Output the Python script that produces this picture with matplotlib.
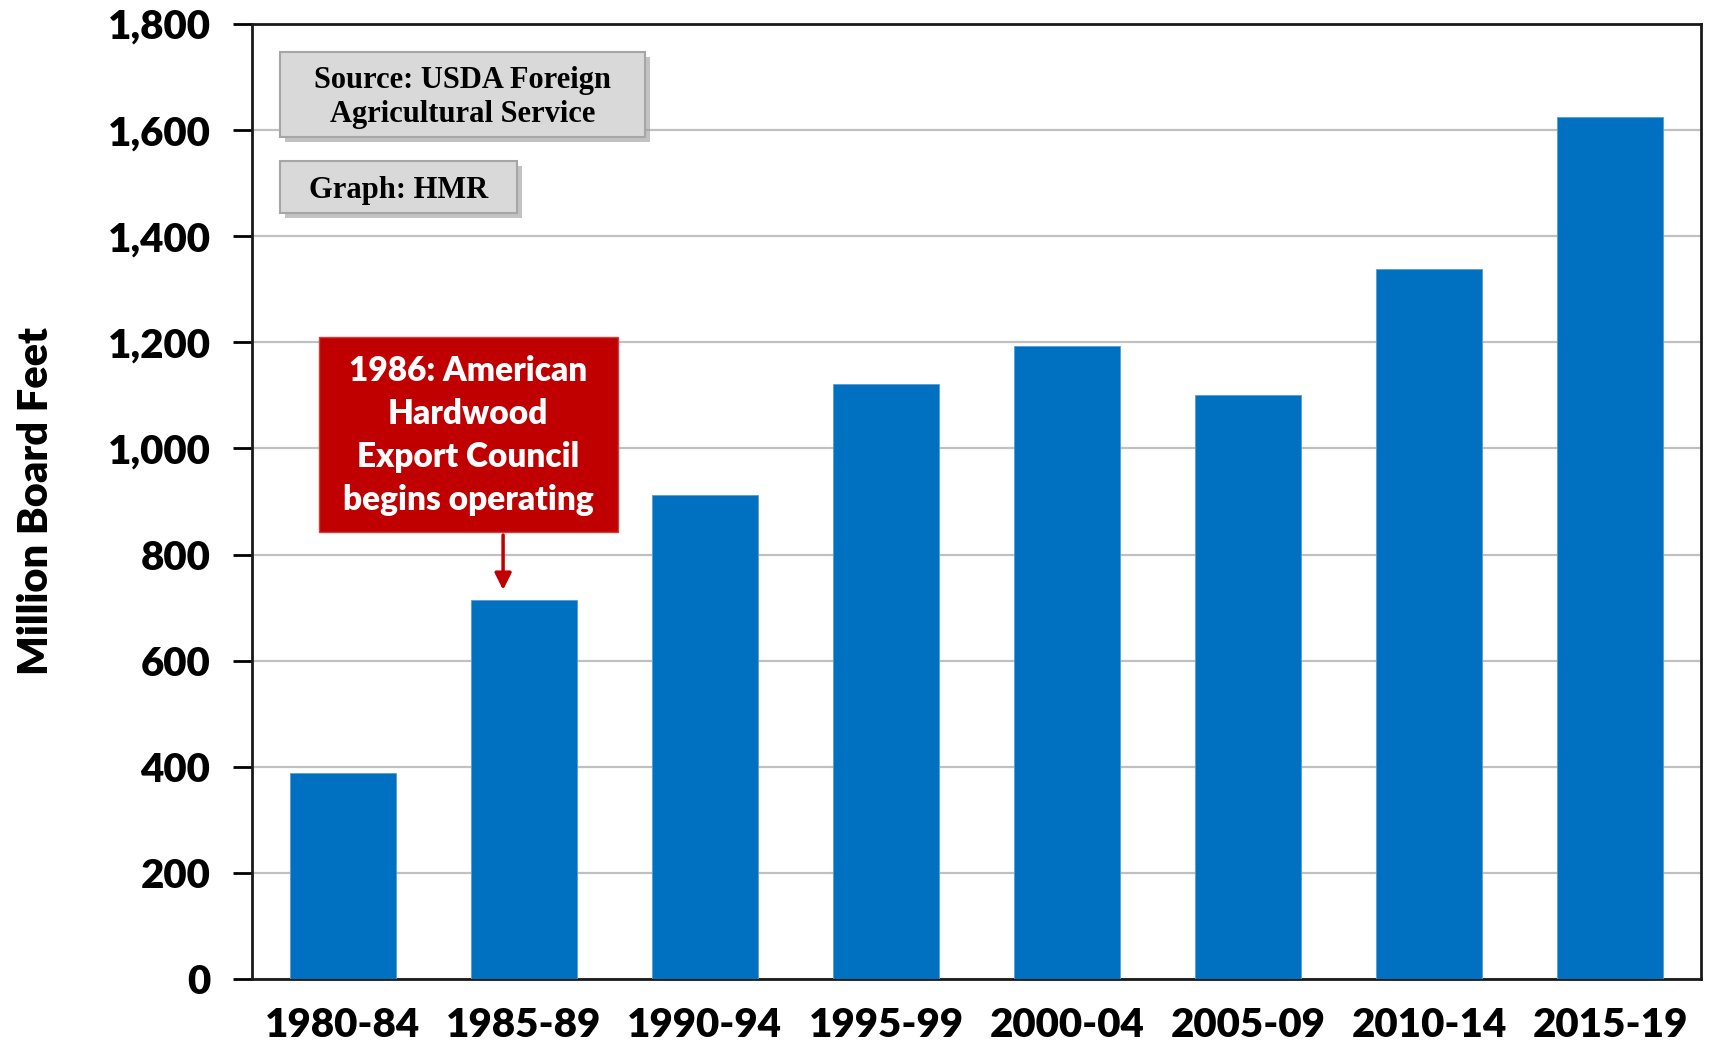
import matplotlib
matplotlib.use("Agg")
from matplotlib import pyplot as plt
from matplotlib import patches as pat

# data
periods = ['1980-84', '1985-89', '1990-94', '1995-99', '2000-04', '2005-09', '2010-14', '2015-19']
volumes = [388, 715, 912, 1122, 1194, 1101, 1338, 1625]
yticks = list(range(0, 1801, 200))

bar_color = '#0070C0'
red = '#C00000'
sans = ['Lato', 'DejaVu Sans']

fig = plt.figure(figsize=(17.09, 10.62), dpi=100)
ax = fig.add_axes([0.1475, 0.0782, 0.9953 - 0.1475, 0.9774 - 0.0782])

x = list(range(len(periods)))
ax.bar(x, volumes, width=0.585, color=bar_color, edgecolor='#5B9BD5', linewidth=0.6, zorder=3)

ax.set_xlim(-0.5, len(periods) - 0.5)
ax.set_ylim(0, 1800)
ax.set_yticks(yticks)
ax.set_yticklabels(['{:,}'.format(v) for v in yticks])
ax.set_xticks(x)
ax.set_xticklabels(periods)
ax.grid(axis='y', color='#C0C0C0', linewidth=1.6, zorder=0)

for s in ax.spines.values():
    s.set_linewidth(2.0)
    s.set_color('#1a1a1a')

for lab in ax.get_yticklabels() + ax.get_xticklabels():
    lab.set_fontfamily(sans)
    lab.set_fontweight('heavy')
    lab.set_fontsize(29)
ax.tick_params(axis='y', length=14, width=2, pad=16)
ax.tick_params(axis='x', length=0, pad=20)
ax.set_ylabel('Million Board Feet', fontsize=30, fontweight='heavy',
              family=sans, labelpad=38)

# annotation box with arrow
ax.annotate('', xy=(0.886, 728), xytext=(0.886, 842),
            arrowprops=dict(arrowstyle='-|>', color=red, lw=2.5, mutation_scale=25),
            zorder=5)
ax.add_patch(pat.Rectangle((-0.133, 842), 1.651, 368, facecolor=red,
                           edgecolor='#D04040', linewidth=1, zorder=6))
ax.text(0.692, 1024, '1986: American\nHardwood\nExport Council\nbegins operating',
        ha='center', va='center', color='white', fontsize=24, fontweight='heavy',
        family=sans, linespacing=1.43, zorder=7)

# source and graph boxes (figure coords)
def note_box(x0, y0, x1, y1, text):
    sh = pat.Rectangle((x0 + 0.003, y0 - 0.005), x1 - x0, y1 - y0, transform=fig.transFigure,
                       facecolor='#9a9a9a', edgecolor='none', alpha=0.6, zorder=8)
    box = pat.Rectangle((x0, y0), x1 - x0, y1 - y0, transform=fig.transFigure,
                        facecolor='#D9D9D9', edgecolor='#A6A6A6', linewidth=1.5, zorder=9)
    fig.patches.extend([sh, box])
    fig.text((x0 + x1) / 2, (y0 + y1) / 2 - 0.003, text, ha='center', va='center',
             fontsize=22, fontweight='bold', family='Liberation Serif',
             linespacing=1.22, zorder=10)

note_box(0.1638, 0.871, 0.3774, 0.951, 'Source: USDA Foreign\nAgricultural Service')
note_box(0.1638, 0.7994, 0.3025, 0.8484, 'Graph: HMR')

plt.savefig('out.png', dpi=100)
